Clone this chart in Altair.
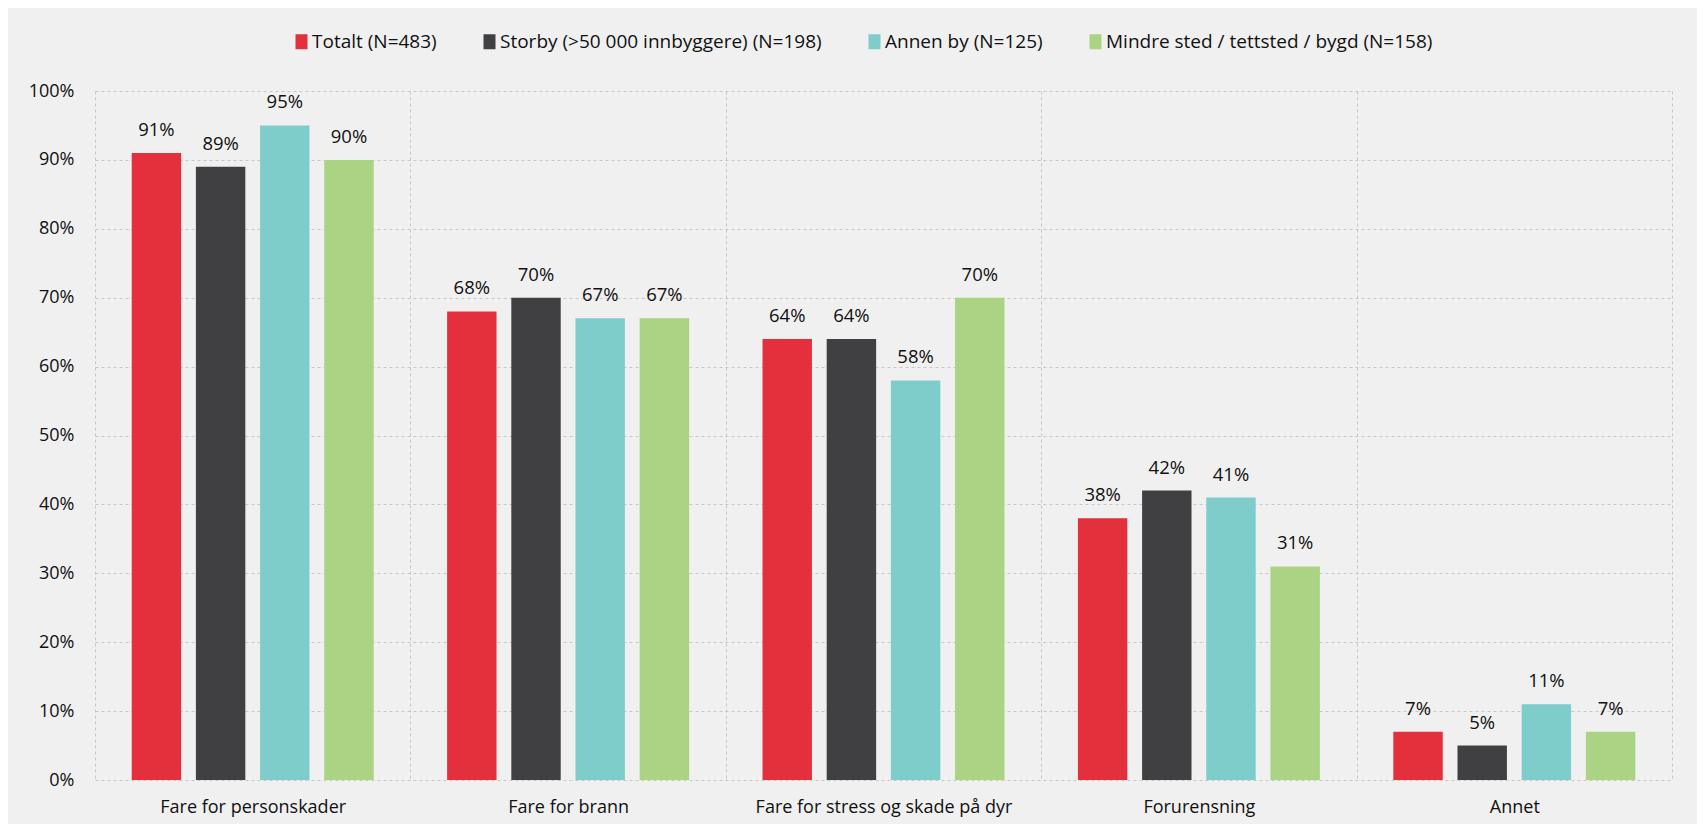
import altair as alt
import pandas as pd

categories = ["Fare for personskader", "Fare for brann", "Fare for stress og skade på dyr", "Forurensning", "Annet"]
series = ["Totalt (N=483)", "Storby (>50 000 innbyggere) (N=198)", "Annen by (N=125)", "Mindre sted / tettsted / bygd (N=158)"]
colors = ["#E3303C", "#404042", "#7FCDCA", "#ABD384"]

totalt = [91, 68, 64, 38, 7]
storby = [89, 70, 64, 42, 5]
annen = [95, 67, 58, 41, 11]
mindre = [90, 67, 70, 31, 7]
y_ticks = [0, 10, 20, 30, 40, 50, 60, 70, 80, 90, 100]

rows = []
for s, vals in zip(series, [totalt, storby, annen, mindre]):
    for c, v in zip(categories, vals):
        rows.append({"category": c, "series": s, "value": v, "label": f"{v}%"})
df = pd.DataFrame(rows)

FONT = "Open Sans"
GRID = "#c6c6c6"

base = alt.Chart(df).encode(
    x=alt.X(
        "category:N",
        sort=categories,
        scale=alt.Scale(paddingInner=0, paddingOuter=0),
        axis=alt.Axis(
            title=None, labelAngle=0, tickBand="extent", grid=True,
            gridDash=[3, 3], gridColor=GRID, gridWidth=1, domain=False, ticks=False,
            labelPadding=18, labelFontSize=18, labelFont=FONT, labelColor="#111111",
            labelLimit=0,
        ),
    ),
    xOffset=alt.XOffset("series:N", sort=series,
                        scale=alt.Scale(paddingInner=0.23, paddingOuter=0.572)),
    y=alt.Y(
        "value:Q",
        scale=alt.Scale(domain=[0, 100], nice=False),
        axis=alt.Axis(
            title=None, values=y_ticks, labelExpr="datum.value + '%'", grid=True,
            gridDash=[3, 3], gridColor=GRID, gridWidth=1, domain=False, ticks=False,
            labelPadding=21, labelFontSize=18, labelFont=FONT, labelColor="#111111",
        ),
    ),
)

bars = base.mark_bar().encode(
    color=alt.Color(
        "series:N", sort=series,
        scale=alt.Scale(domain=series, range=colors),
        legend=alt.Legend(
            title=None, orient="none", direction="horizontal", legendX=197, legendY=-59,
            symbolType="M-0.8,-1H0.8V1H-0.8Z", symbolSize=225, symbolStrokeWidth=0,
            labelFontSize=19, labelFont=FONT, labelColor="#111111", labelLimit=0,
            labelOffset=1, columnPadding=43, padding=0,
        ),
    )
)

text = base.mark_text(baseline="alphabetic", dy=-17, fontSize=18.5, font=FONT, color="#111111").encode(
    text="label:N"
)

chart = (
    alt.layer(bars, text)
    .properties(
        width=1577, height=689,
        autosize=alt.AutoSizeParams(type="none"),
        padding={"left": 87, "top": 83, "right": 25, "bottom": 44},
        background="#f0f0f0",
    )
    .configure_view(stroke=None)
)

chart.save("out.html", embed_options={"renderer": "svg", "actions": False})
